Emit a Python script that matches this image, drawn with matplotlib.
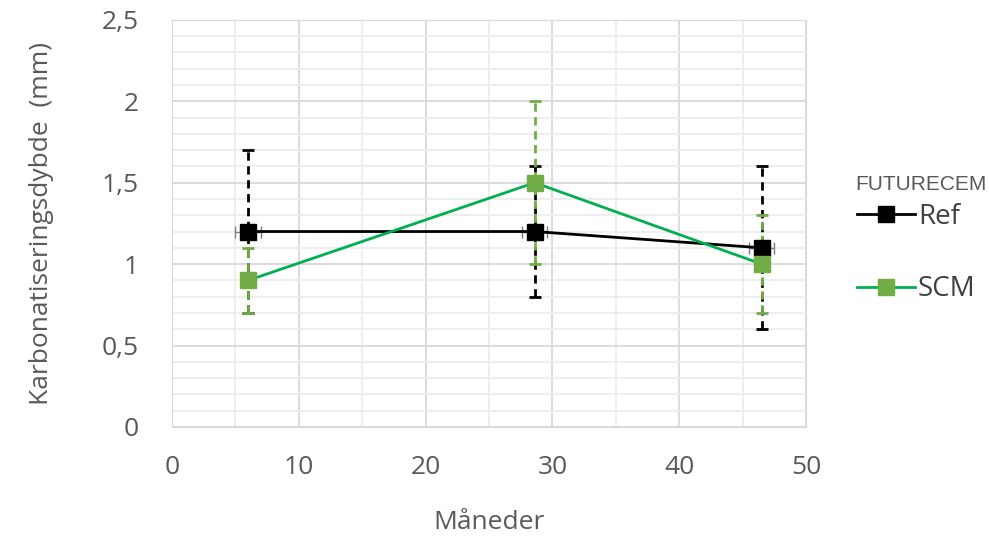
import matplotlib.pyplot as plt
from matplotlib.ticker import MultipleLocator, FuncFormatter

# data
months = [6, 28.6, 46.5]
ref = [1.2, 1.2, 1.1]
ref_err = [0.5, 0.4, 0.5]
ref_xerr = [1.0, 1.0, 1.0]
scm = [0.9, 1.5, 1.0]
scm_err = [0.2, 0.5, 0.3]

plt.rcParams['font.family'] = ['Open Sans', 'DejaVu Sans']
txt = '#595959'

fig = plt.figure(figsize=(9.89, 5.37), dpi=100)
ax = fig.add_axes([0.174, 0.205, 0.641, 0.758])

# error bars
e1 = ax.errorbar(months, ref, yerr=ref_err, fmt='none', ecolor='black', elinewidth=2,
                 capsize=4, capthick=2, zorder=3)
e1[2][0].set_linestyle((0, (3, 2)))
e1x = ax.errorbar(months, ref, xerr=ref_xerr, fmt='none', ecolor='#7f7f7f', elinewidth=1,
                  capsize=4, capthick=1, zorder=3)
e2 = ax.errorbar(months, scm, yerr=scm_err, fmt='none', ecolor='#70AD47', elinewidth=2,
                 capsize=4, capthick=2, zorder=4)
e2[2][0].set_linestyle((0, (3, 2)))

ax.plot(months, ref, color='black', lw=2, marker='s', ms=12, mfc='black', mec='black',
        label='Ref', zorder=5)
ax.plot(months, scm, color='#00B050', lw=2, marker='s', ms=12, mfc='#70AD47', mec='#70AD47',
        label='SCM', zorder=5)

ax.set_xlim(0, 50)
ax.set_ylim(0, 2.5)
ax.xaxis.set_major_locator(MultipleLocator(10))
ax.xaxis.set_minor_locator(MultipleLocator(5))
ax.yaxis.set_major_locator(MultipleLocator(0.5))
ax.yaxis.set_minor_locator(MultipleLocator(0.1))
ax.yaxis.set_major_formatter(FuncFormatter(lambda v, p: f"{v:g}".replace('.', ',')))
ax.grid(which='major', color='#d9d9d9', lw=1.3)
ax.grid(which='minor', color='#ededed', lw=1.3)
ax.set_axisbelow(True)
ax.tick_params(which='both', length=0, labelsize=19, labelcolor=txt)
ax.tick_params(axis='y', pad=24)
ax.tick_params(axis='x', pad=20)
for s in ax.spines.values():
    s.set_color('#d9d9d9')

ax.set_xlabel('Måneder', fontsize=19, color=txt, labelpad=22)
ax.set_ylabel('Karbonatiseringsdybde  (mm)', fontsize=19, color=txt, labelpad=34)

leg = ax.legend(loc='upper left', bbox_to_anchor=(1.08, 0.55),
                frameon=False, fontsize=20, labelspacing=1.6,
                handlelength=2.1, handletextpad=0.1, markerscale=1.0,
                borderaxespad=0, borderpad=0)
for t in leg.get_texts():
    t.set_color('#404040')
fig.text(855 / 989, 1 - 185 / 537, 'FUTURECEM', fontsize=15, color=txt,
         family=['Liberation Sans'], ha='left', va='center')

fig.savefig('out.png', dpi=100)
